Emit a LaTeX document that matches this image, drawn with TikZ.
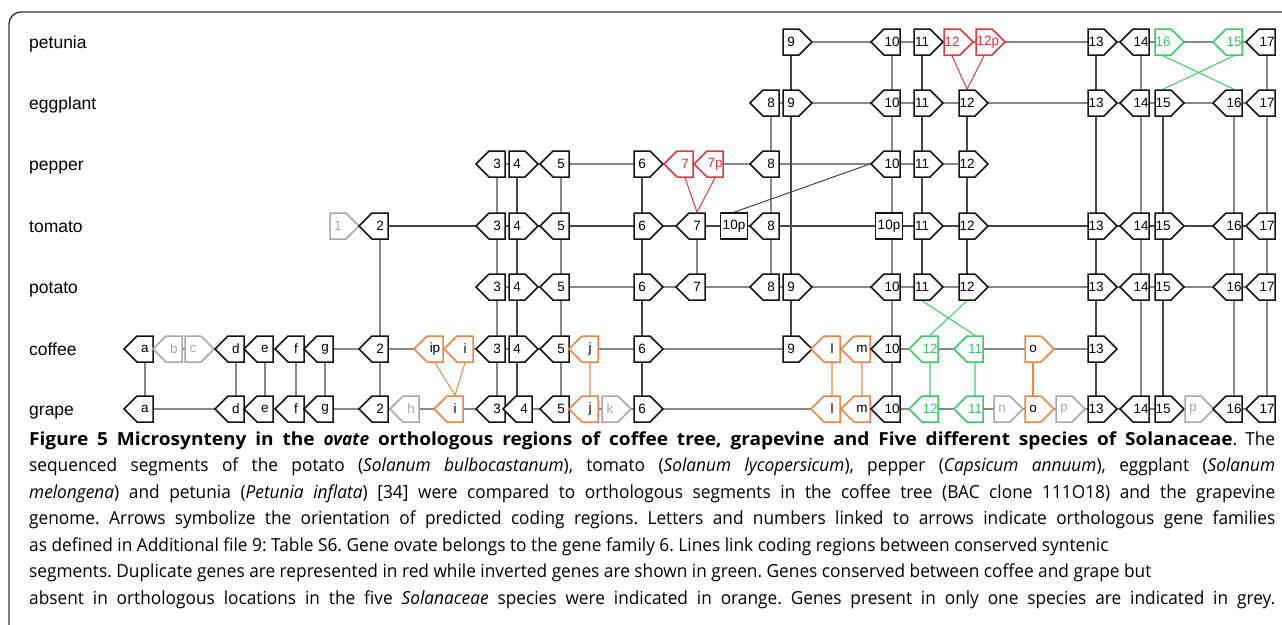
\documentclass[tikz,border=0pt]{standalone}
\usepackage{fontspec}
\setmainfont{Open Sans}[FakeStretch=0.96, BoldFeatures={FakeStretch=1.06}]
\newfontfamily\arialfont{Liberation Sans}
\usetikzlibrary{shapes.symbols, backgrounds}
\frenchspacing

\definecolor{DupRed}{RGB}{226,56,56}
\definecolor{InvGreen}{RGB}{56,204,96}
\definecolor{KeptOrange}{RGB}{242,132,66}
\definecolor{SingleGrey}{RGB}{168,168,168}
\colorlet{GeneLine}{black!92}
\colorlet{LinkLine}{black!72}

\tikzset{
  gene/.style={shape=signal, draw=GeneLine, fill=white, line width=1.5pt,
    minimum height=26pt, text width=15pt, align=center, inner xsep=0.5pt,
    inner ysep=0pt, font=\arialfont\fontsize{13.5}{13.5}\selectfont},
  gr/.style={gene, signal to=east},
  gl/.style={gene, signal to=west},
  gbox/.style={gene, shape=rectangle, text width=26pt},
  blk/.style={},
  dup/.style={draw=DupRed, text=DupRed},
  inv/.style={draw=InvGreen, text=InvGreen},
  kept/.style={draw=KeptOrange},
  single/.style={draw=SingleGrey, text=SingleGrey},
  link/.style={draw=LinkLine, line width=1.3pt},
  cross/.style={line width=1pt},
  species/.style={anchor=base west, inner sep=0pt, font=\arialfont\fontsize{17.5}{17.5}\selectfont},
  capline/.style={anchor=base west, inner sep=0pt, font=\fontsize{18}{20}\selectfont}
}

\begin{document}
\begin{tikzpicture}[x=1pt, y=-1pt]

    \useasboundingbox (0,0) rectangle (1282,624);
    \draw[line width=1.3pt, draw=black!80, rounded corners=12pt] (9,660) -- (9,12) -- (1300,12);

    % species names
    \node[species] (lab-pet) at (29,48) {petunia};
    \node[species] (lab-egg) at (29,109) {eggplant};
    \node[species] (lab-pep) at (29,170) {pepper};
    \node[species] (lab-tom) at (29,232) {tomato};
    \node[species] (lab-pot) at (29,293) {potato};
    \node[species] (lab-cof) at (29,355) {coffee};
    \node[species] (lab-gra) at (29,415) {grape};

    % genes, row by row
    \foreach \n/\x/\s/\c/\t in {9/791/gr/blk/9, 10/892/gl/blk/10, 11/922/gr/blk/11,
        12/952/gr/dup/12, 12p/984/gr/dup/12p, 13/1096/gr/blk/13, 14/1141/gl/blk/14,
        16/1163/gr/inv/16, 15/1234/gl/inv/15, 17/1267/gl/blk/17}
        \node[\s,\c] (pet-\n) at (\x,42) {\t};

    \foreach \n/\x/\s/\c/\t in {8/771/gl/blk/8, 9/791/gr/blk/9, 10/892/gl/blk/10,
        11/922/gr/blk/11, 12/967/gr/blk/12, 13/1096/gr/blk/13, 14/1141/gl/blk/14,
        15/1163/gr/blk/15, 16/1234/gl/blk/16, 17/1267/gl/blk/17}
        \node[\s,\c] (egg-\n) at (\x,103) {\t};

    \foreach \n/\x/\s/\c/\t in {3/497/gl/blk/3, 4/517/gr/blk/4, 5/561/gl/blk/5,
        6/642/gr/blk/6, 7/685/gl/dup/7, 7p/715/gl/dup/7p, 8/771/gl/blk/8,
        10/892/gl/blk/10, 11/922/gr/blk/11, 12/967/gr/blk/12}
        \node[\s,\c] (pep-\n) at (\x,164) {\t};

    \foreach \n/\x/\s/\c/\t in {1/338/gr/single/1, 2/380/gl/blk/2, 3/497/gl/blk/3,
        4/517/gr/blk/4, 5/561/gl/blk/5, 6/642/gr/blk/6, 7/697/gl/blk/7,
        10pA/734/gbox/blk/10p, 8/771/gl/blk/8, 10pB/889/gbox/blk/10p,
        11/922/gr/blk/11, 12/967/gr/blk/12, 13/1096/gr/blk/13, 14/1141/gl/blk/14,
        15/1163/gr/blk/15, 16/1234/gl/blk/16, 17/1267/gl/blk/17}
        \node[\s,\c] (tom-\n) at (\x,226) {\t};

    \foreach \n/\x/\s/\c/\t in {3/497/gl/blk/3, 4/517/gr/blk/4, 5/561/gl/blk/5,
        6/642/gr/blk/6, 7/697/gl/blk/7, 8/771/gl/blk/8, 9/791/gr/blk/9,
        10/892/gl/blk/10, 11/922/gr/blk/11, 12/967/gr/blk/12, 13/1096/gr/blk/13,
        14/1141/gl/blk/14, 15/1163/gr/blk/15, 16/1234/gl/blk/16, 17/1267/gl/blk/17}
        \node[\s,\c] (pot-\n) at (\x,287) {\t};

    \foreach \n/\x/\s/\c/\t in {a/145/gl/blk/a, b/174/gl/single/b, c/193/gr/single/c,
        d/236/gl/blk/d, e/265/gl/blk/e, f/296/gl/blk/f, g/325/gl/blk/g,
        2/380/gl/blk/2, ip/435/gl/kept/ip, i/465/gl/kept/i, 3/497/gl/blk/3,
        4/517/gr/blk/4, 5/561/gl/blk/5, j/590/gl/kept/j, 6/642/gr/blk/6,
        9/791/gr/blk/9, l/832/gl/kept/l, m/862/gl/kept/m, 10/892/gl/blk/10,
        12/930/gl/inv/12, 11/975/gl/inv/11, o/1033/gr/kept/o, 13/1096/gr/blk/13}
        \node[\s,\c] (cof-\n) at (\x,349) {\t};

    \foreach \n/\x/\s/\c/\t in {a/145/gl/blk/a, d/236/gl/blk/d, e/265/gl/blk/e,
        f/296/gl/blk/f, g/325/gl/blk/g, 2/380/gl/blk/2, h/411/gl/single/h,
        i/455/gl/kept/i, 3/497/gl/blk/3, 4/524/gl/blk/4, 5/561/gl/blk/5,
        j/590/gl/kept/j, k/610/gr/single/k, 6/642/gr/blk/6, l/832/gl/kept/l,
        m/862/gl/kept/m, 10/892/gl/blk/10, 12/930/gl/inv/12, 11/975/gl/inv/11,
        n/1002/gr/single/n, o/1033/gr/kept/o, pA/1064/gr/single/p, 13/1096/gr/blk/13,
        14/1141/gl/blk/14, 15/1163/gr/blk/15, pB/1193/gr/single/p, 16/1234/gl/blk/16,
        17/1267/gl/blk/17}
        \node[\s,\c] (gra-\n) at (\x,409) {\t};

    \begin{scope}[on background layer]
        % chromosome segments
        \foreach \a/\b in {pet-9/pet-17, egg-8/egg-17, pep-3/pep-12, tom-1/tom-17,
            pot-3/pot-17, cof-a/cof-13, gra-a/gra-17}
            \draw[link] (\a) -- (\b);

        % orthologous genes
        \foreach \a/\b in {cof-a/gra-a, tom-2/gra-2, cof-d/gra-d, cof-e/gra-e,
            cof-f/gra-f, cof-g/gra-g, pep-3/gra-3, pep-4/gra-4, pep-5/gra-5,
            pep-6/gra-6, tom-7/pot-7, egg-8/pot-8, pet-9/cof-9, pet-10/gra-10,
            pet-11/pot-11, egg-12/pot-12, pet-13/gra-13, pet-14/gra-14,
            egg-15/gra-15, egg-16/gra-16, pet-17/gra-17}
            \draw[link] (\a) -- (\a |- \b);

        \foreach \a/\b in {cof-j/gra-j, cof-l/gra-l, cof-m/gra-m, cof-o/gra-o}
            \draw[link, draw=KeptOrange] (\a) -- (\a |- \b);
        \foreach \a/\b in {cof-12/gra-12, cof-11/gra-11}
            \draw[link, draw=InvGreen] (\a) -- (\a |- \b);

        % duplications and inversions
        \draw[cross, DupRed] (pet-12.south) -- (egg-12.north) (pet-12p.south) -- (egg-12.north);
        \draw[cross, DupRed] (pep-7.south) -- (tom-7.north) (pep-7p.south) -- (tom-7.north);
        \draw[cross, InvGreen] (pet-16.south) -- (egg-16.north) (pet-15.south) -- (egg-15.north);
        \draw[cross, InvGreen] (pot-11.south) -- (cof-11.north) (pot-12.south) -- (cof-12.north);
        \draw[cross, KeptOrange] (cof-ip.south) -- (gra-i.north) (cof-i.south) -- (gra-i.north);
        \draw[cross, LinkLine] (tom-10pA.north) -- (pep-10.west);
    \end{scope}

    % caption
    \node[capline] (cap-1) at (29,445) {\makebox[1246pt][s]{\textbf{Figure 5 Microsynteny in the \textit{ovate} orthologous regions of coffee tree, grapevine and Five different species of Solanaceae}. The}};
    \node[capline] (cap-2) at (29,471.5) {\makebox[1246pt][s]{sequenced segments of the potato (\textit{Solanum bulbocastanum}), tomato (\textit{Solanum lycopersicum}), pepper (\textit{Capsicum annuum}), eggplant (\textit{Solanum}}};
    \node[capline] (cap-3) at (29,498) {\makebox[1246pt][s]{\textit{melongena}) and petunia (\textit{Petunia inflata}) [34] were compared to orthologous segments in the coffee tree (BAC clone 111O18) and the grapevine}};
    \node[capline] (cap-4) at (29,524.5) {\makebox[1246pt][s]{genome. Arrows symbolize the orientation of predicted coding regions. Letters and numbers linked to arrows indicate orthologous gene families}};
    \node[capline] (cap-5) at (29,551) {as defined in Additional file 9: Table S6. Gene ovate belongs to the gene family 6. Lines link coding regions between conserved syntenic};
    \node[capline] (cap-6) at (29,577.5) {segments. Duplicate genes are represented in red while inverted genes are shown in green. Genes conserved between coffee and grape but};
    \node[capline] (cap-7) at (29,604) {\makebox[1246pt][s]{absent in orthologous locations in the five \textit{Solanaceae} species were indicated in orange. Genes present in only one species are indicated in grey.}};

\end{tikzpicture}
\end{document}
